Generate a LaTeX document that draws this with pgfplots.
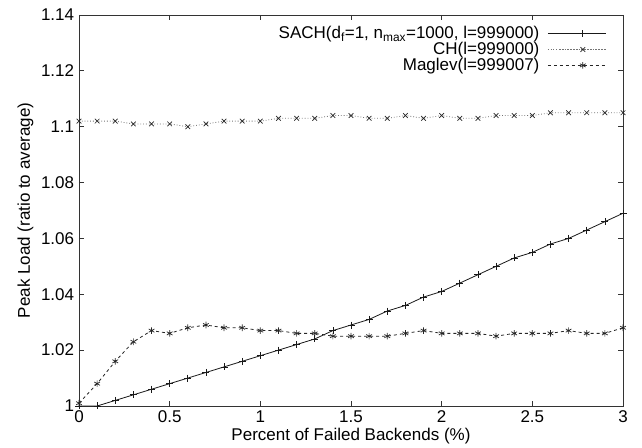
\documentclass[border=0pt]{standalone}
\usepackage{fontspec}
\setmainfont{Liberation Sans}
\usepackage{pgfplots}
\pgfplotsset{compat=1.18}

\begin{document}
\fontsize{17}{19.5}\selectfont
\begin{tikzpicture}
  \begin{axis}[
      name=ax,
      scale only axis,
      width=544pt, height=391pt,
      xmin=0, xmax=3,
      ymin=1, ymax=1.14,
      xtick={0,0.5,...,3},
      ytick={1,1.02,1.04,1.06,1.08,1.1,1.12,1.14},
      tick align=inside,
      major tick length=5pt,
      axis line style={black!80, line width=0.9pt},
      tick style={black!80, line width=0.7pt},
      /pgf/number format/assume math mode=true,
      /pgf/number format/precision=2,
      tick label style={font=\fontsize{17}{19.5}\selectfont},
      label style={font=\fontsize{17}{19.5}\selectfont},
      xticklabel style={yshift=1pt},
      yticklabel style={xshift=1pt},
      xlabel={Percent of Failed Backends (\%)},
      ylabel={Peak Load (ratio to average)},
      xlabel style={yshift=6pt},
      ylabel style={yshift=-4pt},
      legend style={
          at={(0.975,0.982)},
          anchor=north east,
          draw=none, fill=none,
          font=\fontsize{17}{19.5}\selectfont,
          row sep=-3pt,
        },
      legend cell align=right,
      legend plot pos=right,
      legend image code/.code={
          \path (0pt,0pt) -- (58pt,0pt);
          \draw[#1] (12pt,0pt) -- (58pt,0pt);
          \draw[#1, solid] plot coordinates {(35pt,0pt)};
        },
      every axis plot/.append style={line width=0.8pt},
      clip=false,
    ]

    \addplot[black!90, mark=+, mark size=3.5pt, mark options={solid, line width=0.7pt}] coordinates {
        (0,1.000) (0.1,1.000) (0.2,1.002) (0.3,1.004) (0.4,1.006) (0.5,1.008)
        (0.6,1.010) (0.7,1.012) (0.8,1.014) (0.9,1.016) (1.0,1.018) (1.1,1.020)
        (1.2,1.022) (1.3,1.024) (1.4,1.027) (1.5,1.029) (1.6,1.031) (1.7,1.034)
        (1.8,1.036) (1.9,1.039) (2.0,1.041) (2.1,1.044) (2.2,1.047) (2.3,1.050)
        (2.4,1.053) (2.5,1.055) (2.6,1.058) (2.7,1.060) (2.8,1.063) (2.9,1.066)
        (3.0,1.069)
      };
    \addlegendentry{SACH(d\textsubscript{f}=1, n\textsubscript{max}=1000, l=999000)\hspace*{6pt}}

    \addplot[black!55, dotted, mark=x, mark size=3.3pt, mark options={solid, black!85, line width=0.7pt}] coordinates {
        (0,1.102) (0.1,1.102) (0.2,1.102) (0.3,1.101) (0.4,1.101) (0.5,1.101)
        (0.6,1.100) (0.7,1.101) (0.8,1.102) (0.9,1.102) (1.0,1.102) (1.1,1.103)
        (1.2,1.103) (1.3,1.103) (1.4,1.104) (1.5,1.104) (1.6,1.103) (1.7,1.103)
        (1.8,1.104) (1.9,1.103) (2.0,1.104) (2.1,1.103) (2.2,1.103) (2.3,1.104)
        (2.4,1.104) (2.5,1.104) (2.6,1.105) (2.7,1.105) (2.8,1.105) (2.9,1.105)
        (3.0,1.105)
      };
    \addlegendentry{CH(l=999000)\hspace*{6pt}}

    \addplot[black!85, dashed, mark=asterisk, mark size=3.3pt, mark options={solid, line width=0.7pt}] coordinates {
        (0,1.001) (0.1,1.008) (0.2,1.016) (0.3,1.023) (0.4,1.027) (0.5,1.026)
        (0.6,1.028) (0.7,1.029) (0.8,1.028) (0.9,1.028) (1.0,1.027) (1.1,1.027)
        (1.2,1.026) (1.3,1.026) (1.4,1.025) (1.5,1.025) (1.6,1.025) (1.7,1.025)
        (1.8,1.026) (1.9,1.027) (2.0,1.026) (2.1,1.026) (2.2,1.026) (2.3,1.025)
        (2.4,1.026) (2.5,1.026) (2.6,1.026) (2.7,1.027) (2.8,1.026) (2.9,1.026)
        (3.0,1.028)
      };
    \addlegendentry{Maglev(l=999007)\hspace*{6pt}}

  \end{axis}
  \pgfresetboundingbox
  \path[use as bounding box] ([shift={(-79pt,-42pt)}]ax.south west) rectangle ([shift={(19pt,15pt)}]ax.north east);
\end{tikzpicture}
\end{document}
